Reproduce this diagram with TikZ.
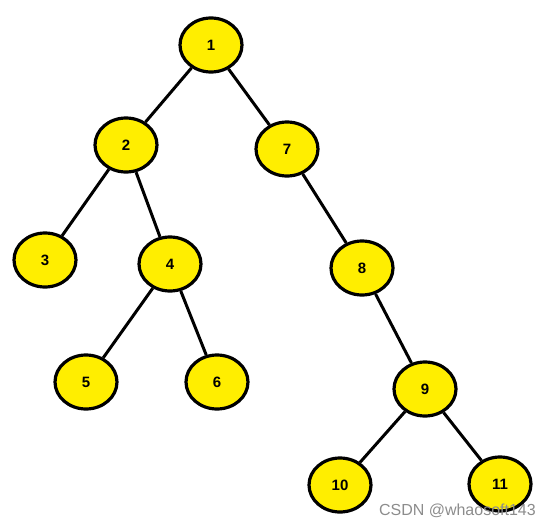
\documentclass[tikz,border=0pt]{standalone}
\usepackage{fontspec}
\setmainfont{Liberation Sans}
\usetikzlibrary{shapes.geometric}
\definecolor{nodeyellow}{RGB}{255,238,0}
\begin{document}
\begin{tikzpicture}[x=1pt,y=-1pt,
  tn/.style={ellipse,draw=black,fill=nodeyellow,line width=3.2pt,minimum width=62pt,minimum height=54pt,inner sep=0pt,font=\bfseries\fontsize{15}{15}\selectfont},
  edge/.style={line width=3pt}]
\useasboundingbox (0,0) rectangle (551,525);
\node[tn] (n1) at (211,45) {1};
\node[tn] (n2) at (126,145) {2};
\node[tn] (n7) at (287,149) {7};
\node[tn] (n3) at (45,260) {3};
\node[tn] (n4) at (170,264) {4};
\node[tn] (n8) at (362,268) {8};
\node[tn] (n5) at (86,382) {5};
\node[tn] (n6) at (217,382) {6};
\node[tn] (n9) at (425,389) {9};
\node[tn] (n10) at (340,485) {10};
\node[tn] (n11) at (500,484) {11};
\draw[edge] (n1) -- (n2);
\draw[edge] (n1) -- (n7);
\draw[edge] (n2) -- (n3);
\draw[edge] (n2) -- (n4);
\draw[edge] (n4) -- (n5);
\draw[edge] (n4) -- (n6);
\draw[edge] (n7) -- (n8);
\draw[edge] (n8) -- (n9);
\draw[edge] (n9) -- (n10);
\draw[edge] (n9) -- (n11);
\node[anchor=base east,text=black!45,font=\fontsize{16}{16}\selectfont,inner sep=0pt] (wm) at (536,515) {CSDN @whaosoft143};
\end{tikzpicture}
\end{document}
